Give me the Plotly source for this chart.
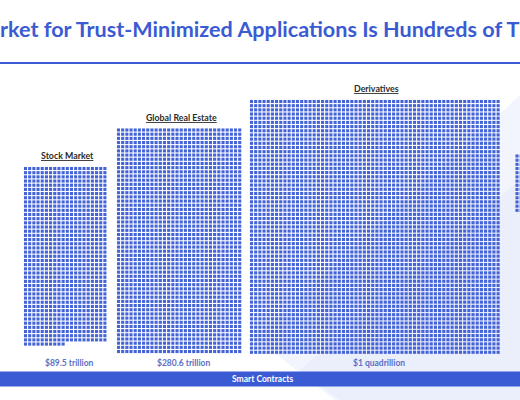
import plotly.graph_objects as go

# Market sizes shown as waffle grids of small squares
categories = ["Stock Market", "Global Real Estate", "Derivatives", ""]
value_labels = ["$89.5 trillion", "$280.6 trillion", "$1 quadrillion", ""]
square_counts = [850, 1620, 3660, 42]
grid_columns = [20, 30, 60, 3]

title_text = "rket for Trust-Minimized Applications Is Hundreds of T"
bar_text = "Smart Contracts"

# Layout in canvas pixels (520 x 400)
grid_left = [25.5, 118.5, 251.5, 517.0]
grid_top = [168.5, 130.0, 101.5, 156.0]
PITCH = 4.18
BLUE = "#3a5bd3"
SQUARE_BLUE = "#4363d6"

fig = go.Figure()

# light lavender wash in the lower right
fig.add_shape(type="path", path="M 255,338 L 335,400 L 520,400 L 520,95 Z",
              fillcolor="#e8ecfb", opacity=0.55, line_width=0, layer="below")
fig.add_shape(type="path", path="M 300,370 L 340,400 L 520,400 L 520,180 Z",
              fillcolor="#e3e8fa", opacity=0.5, line_width=0, layer="below")

for name, label, n, cols, left, top in zip(categories, value_labels, square_counts,
                                           grid_columns, grid_left, grid_top):
    xs, ys = [], []
    for i in range(n):
        r, c = divmod(i, cols)
        xs.append(left + c * PITCH)
        ys.append(top + r * PITCH)
    fig.add_trace(go.Scatter(
        x=xs, y=ys, mode="markers", name=name,
        marker=dict(symbol="square", size=3.1, color=SQUARE_BLUE, line_width=0),
        hoverinfo="skip", cliponaxis=True,
    ))
    if not name:
        continue
    cx = left + (cols - 1) * PITCH / 2 + 2
    fig.add_annotation(x=cx, y=top - 13, text="<b><u>%s</u></b>" % name,
                       showarrow=False, font=dict(family="Lato", size=8.8, color="#2b2b2b"))
    fig.add_annotation(x=cx + 2, y=362.5, text="<b>%s</b>" % label,
                       showarrow=False, font=dict(family="Lato", size=8.5, color="#5c70c4"))

# title and rule
fig.add_annotation(xref="paper", x=0, xshift=-2, y=29, xanchor="left", yanchor="middle",
                   text="<b>%s</b>" % title_text, showarrow=False,
                   font=dict(family="Lato", size=21.6, color=BLUE))
fig.add_shape(type="line", x0=0, x1=520, y0=63, y1=63, line=dict(color=BLUE, width=2))

# bottom bar
fig.add_shape(type="rect", x0=0, x1=520, y0=371.5, y1=386.5, fillcolor=BLUE, line_width=0)
fig.add_annotation(x=262, y=379, text="<b>%s</b>" % bar_text, showarrow=False,
                   font=dict(family="Lato", size=8.5, color="white"))

fig.update_layout(
    width=520, height=400,
    margin=dict(l=0, r=0, t=0, b=0),
    paper_bgcolor="white", plot_bgcolor="white",
    showlegend=False,
    xaxis=dict(range=[0, 520], visible=False, fixedrange=True),
    yaxis=dict(range=[400, 0], visible=False, fixedrange=True),
)

# drop the default page margin so the figure fills the window
fig.write_html("out.html", config={"displayModeBar": False},
               post_script="document.body.style.margin='0';")
